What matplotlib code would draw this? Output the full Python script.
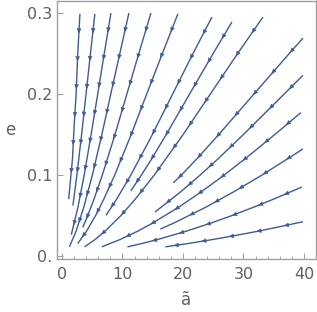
import matplotlib
matplotlib.use("Agg")
import matplotlib.pyplot as plt
import numpy as np
from matplotlib.ticker import MultipleLocator, FixedLocator

# streamlines, listed in flow direction (a~, e)
T1_A = [2.98, 2.62, 2.35, 2.02, 1.75, 1.12]
T1_E = [0.299, 0.25, 0.20, 0.16, 0.12, 0.070]
T2_A = [5.45, 4.72, 3.99, 3.26, 2.48, 1.82]
T2_E = [0.299, 0.25, 0.20, 0.15, 0.10, 0.062]
T3_A = [8.10, 7.00, 5.92, 4.83, 3.69, 2.65, 1.56]
T3_E = [0.300, 0.25, 0.20, 0.15, 0.10, 0.06, 0.026]
T4_A = [11.07, 9.57, 8.08, 6.61, 5.04, 3.62, 2.33, 1.24]
T4_E = [0.300, 0.25, 0.20, 0.15, 0.10, 0.06, 0.03, 0.011]
T5_A = [14.71, 12.71, 10.74, 8.78, 6.69, 5.31, 4.29, 3.45]
T5_E = [0.300, 0.25, 0.20, 0.15, 0.10, 0.07, 0.05, 0.035]
T6_A = [19.17, 16.6, 14.02, 11.46, 8.74, 6.93, 5.59, 4.04, 2.61]
T6_E = [0.299, 0.25, 0.20, 0.15, 0.10, 0.07, 0.05, 0.03, 0.015]
T7_A = [24.79, 21.67, 18.31, 14.96, 11.41, 9.05, 7.30]
T7_E = [0.295, 0.25, 0.20, 0.15, 0.10, 0.07, 0.05]
T8_A = [28.1, 24.99, 21.11, 17.25, 14.85, 13.16, 11.38]
T8_E = [0.289, 0.25, 0.20, 0.15, 0.12, 0.10, 0.08]
T9_A = [33.22, 29.04, 24.54, 20.05, 15.29, 12.13, 9.79, 7.08, 5.47, 3.75]
T9_E = [0.295, 0.25, 0.20, 0.15, 0.10, 0.07, 0.05, 0.03, 0.02, 0.011]
R1_A = [39.83, 37.57, 31.74, 25.94, 22.32, 19.78, 18.4]
R1_E = [0.269, 0.25, 0.20, 0.15, 0.12, 0.10, 0.09]
R2_A = [39.83, 36.74, 30.02, 25.83, 22.89, 19.79, 15.39]
R2_E = [0.223, 0.20, 0.15, 0.12, 0.10, 0.08, 0.054]
R3_A = [39.5, 35.21, 30.30, 26.86, 23.22, 19.30, 14.91, 12.43, 9.61, 6.59]
R3_E = [0.177, 0.15, 0.12, 0.10, 0.08, 0.06, 0.04, 0.03, 0.02, 0.011]
R4_A = [39.83, 33.12, 28.63, 23.79, 18.38, 16.26]
R4_E = [0.132, 0.10, 0.08, 0.06, 0.04, 0.033]
R5_A = [39.67, 34.99, 31.68, 28.23, 24.48, 20.41, 15.78, 13.16, 10.83]
R5_E = [0.085, 0.07, 0.06, 0.05, 0.04, 0.03, 0.02, 0.015, 0.011]
R6_A = [39.83, 35.44, 32.20, 28.66, 24.89, 20.77, 17.09]
R6_E = [0.042, 0.035, 0.03, 0.025, 0.02, 0.015, 0.011]

STREAMS = [
    (T1_A, T1_E), (T2_A, T2_E), (T3_A, T3_E), (T4_A, T4_E), (T5_A, T5_E),
    (T6_A, T6_E), (T7_A, T7_E), (T8_A, T8_E), (T9_A, T9_E),
    (R1_A, R1_E), (R2_A, R2_E), (R3_A, R3_E), (R4_A, R4_E), (R5_A, R5_E),
    (R6_A, R6_E),
]

LINE_COLOR = "#3e5b95"
FRAME_COLOR = "#a0a0a0"
TEXT_COLOR = "#606060"


def draw_stream(ax, a, e, spacing=28.0):
    ax.plot(a, e, color=LINE_COLOR, lw=1.0, solid_capstyle="butt")
    pts = ax.transData.transform(np.column_stack([a, e]))
    seg = np.hypot(*np.diff(pts, axis=0).T)
    cum = np.concatenate([[0], np.cumsum(seg)])
    inv = ax.transData.inverted()
    for s in np.arange(spacing * 0.7, cum[-1] - 6, spacing):
        i = min(np.searchsorted(cum, s) - 1, len(seg) - 1)
        t = (s - cum[i]) / seg[i]
        p = pts[i] + t * (pts[i + 1] - pts[i])
        d = (pts[i + 1] - pts[i]) / seg[i]
        tail, head = inv.transform([p - d * 3, p])
        ax.annotate("", xy=head, xytext=tail,
                    arrowprops=dict(arrowstyle="-|>,head_length=0.5,head_width=0.22",
                                    color=LINE_COLOR, lw=0.4, shrinkA=0, shrinkB=0,
                                    mutation_scale=6))


fig = plt.figure(figsize=(3.17, 3.12), dpi=100)
ax = fig.add_axes([0.18, 0.170, 0.817, 0.827])
ax.set_xlim(-0.8, 42)
ax.set_ylim(-0.004, 0.315)

for a, e in STREAMS:
    draw_stream(ax, a, e)

for sp in ax.spines.values():
    sp.set_color(FRAME_COLOR)
    sp.set_linewidth(1.0)

ax.xaxis.set_major_locator(FixedLocator([0, 10, 20, 30, 40]))
ax.xaxis.set_minor_locator(MultipleLocator(2))
ax.yaxis.set_major_locator(FixedLocator([0, 0.1, 0.2, 0.3]))
ax.set_xticklabels(["0", "10", "20", "30", "40"])
ax.set_yticklabels(["0.", "0.1", "0.2", "0.3"])
ax.tick_params(which="both", direction="in", color=FRAME_COLOR, labelcolor=TEXT_COLOR,
               labelsize=11.5, top=False, right=False)
ax.tick_params(axis="x", pad=6)
ax.tick_params(which="major", length=4, width=0.8)
ax.tick_params(which="minor", length=2, width=0.6)

ax.set_xlabel("ã", fontsize=12, color=TEXT_COLOR, labelpad=6)
ax.set_ylabel("e", fontsize=12, color=TEXT_COLOR, rotation=0, labelpad=12, va="center")

fig.savefig("out.png", dpi=100)
